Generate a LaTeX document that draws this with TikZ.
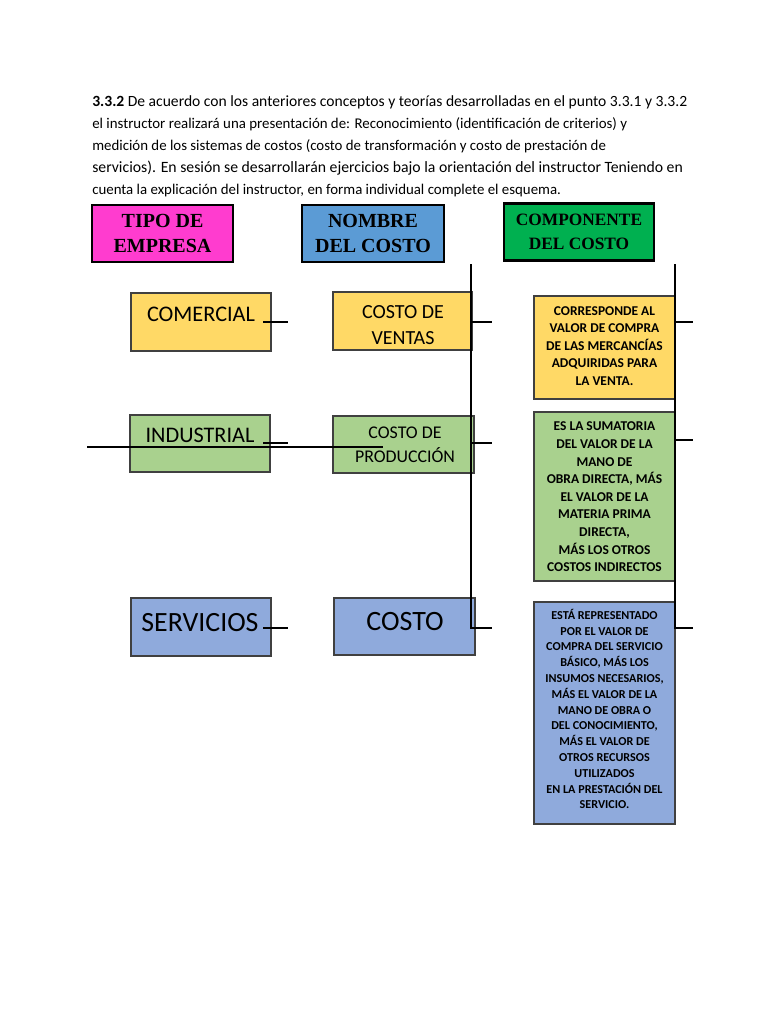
\documentclass[tikz,border=0pt]{standalone}
\usepackage{fontspec}
\setmainfont{Carlito}
\newfontfamily\hdrfont{Liberation Serif}
\definecolor{cMag}{HTML}{FF3CCF}
\definecolor{cHBlue}{HTML}{5B9BD5}
\definecolor{cHGreen}{HTML}{00B050}
\definecolor{cYel}{HTML}{FFD966}
\definecolor{cGrn}{HTML}{A9D18E}
\definecolor{cBlu}{HTML}{8FAADC}
\begin{document}
\begin{tikzpicture}[x=0.75pt,y=-0.75pt,
  sz/.style 2 args={minimum width=#1*0.75pt, minimum height=#2*0.75pt},
  hdr/.style={draw=black, line width=2.2pt, inner sep=0pt, align=center,
    font=\hdrfont\bfseries\fontsize{15}{18.8}\selectfont},
  box/.style={draw=black!75, line width=0.8pt, inner sep=0pt},
  rtxt/.style={inner sep=0pt, align=center, font=\bfseries\fontsize{10.1}{13.2}\selectfont},
  rtxts/.style={inner sep=0pt, align=center, font=\bfseries\fontsize{9.1}{11.85}\selectfont},
  big/.style={inner sep=0pt, font=\fontsize{16.7}{20}\selectfont},
  conn/.style={line width=1.5pt},
  thin/.style={line width=0.8pt}]
\useasboundingbox (0,0) rectangle (768,1024);

% intro text
\node[anchor=north west, inner sep=0pt, align=left, font=\fontsize{11.15}{16.4}\selectfont] (intro) at (92,95.5)
 {{\fontsize{11.7}{16.4}\selectfont\textbf{3.3.2} De acuerdo con los anteriores conceptos y teorías desarrolladas en el punto 3.3.1 y 3.3.2}\\
  el instructor realizará una presentación de: Reconocimiento (identificación de criterios) y\\
  medición de los sistemas de costos (costo de transformación y costo de prestación de\\
  {\fontsize{11.8}{16.4}\selectfont servicios). En sesión se desarrollarán ejercicios bajo la orientación del instructor Teniendo en}\\
  cuenta la explicación del instructor, en forma individual complete el esquema.};

% headers
\node[hdr, fill=cMag, sz={141}{57}] (h1) at (162.5,233.5) {TIPO DE\\EMPRESA};
\node[hdr, fill=cHBlue, sz={142}{57}] (h2) at (373,233.5) {NOMBRE\\DEL COSTO};
\node[hdr, fill=cHGreen, sz={150}{57}, font=\hdrfont\bfseries\fontsize{13}{18}\selectfont] (h3) at (579,232) {COMPONENTE\\DEL COSTO};

% column 1
\node[box, fill=cYel, sz={140}{58}] (com) at (201,322) {};
\node[big] (comt) at (201,314) {COMERCIAL};
\node[box, fill=cGrn, sz={140}{57}] (ind) at (200,443.5) {};
\node[big] (indt) at (200,435) {INDUSTRIAL};
\node[box, fill=cBlu, sz={140}{58}] (ser) at (201,627) {};
\node[big, font=\fontsize{20.9}{24}\selectfont] (sert) at (200,623) {SERVICIOS};

% column 2
\node[box, fill=cYel, sz={139}{58}] (cv) at (402.5,321) {};
\node[inner sep=0pt, align=center, font=\fontsize{15}{19.5}\selectfont] (cvt) at (403,325) {COSTO DE\\VENTAS};
\node[box, fill=cGrn, sz={141}{57}] (cp) at (403.5,444.5) {};
\node[inner sep=0pt, align=center, font=\fontsize{13.4}{18}\selectfont] (cpt) at (405,445) {COSTO DE\\PRODUCCIÓN};
\node[box, fill=cBlu, sz={141}{57}] (cs) at (404.5,626.5) {};
\node[inner sep=0pt, font=\fontsize{21}{24}\selectfont] (cst) at (405,622) {COSTO};

% column 3
\node[box, fill=cYel, sz={141}{103}] (r1) at (604.5,347.5) {};
\node[rtxt] (r1t) at (604.5,346) {CORRESPONDE AL\\VALOR DE COMPRA\\DE LAS MERCANCÍAS\\ADQUIRIDAS PARA\\LA VENTA.};
\node[box, fill=cGrn, sz={141}{169}] (r2) at (604.5,496.5) {};
\node[rtxt] (r2t) at (604.5,497) {ES LA SUMATORIA\\DEL VALOR DE LA\\MANO DE\\OBRA DIRECTA, MÁS\\EL VALOR DE LA\\MATERIA PRIMA\\DIRECTA,\\MÁS LOS OTROS\\COSTOS INDIRECTOS};
\node[box, fill=cBlu, sz={141}{222}] (r3) at (604.5,713) {};
\node[rtxts] (r3t) at (604.5,709) {ESTÁ REPRESENTADO\\POR EL VALOR DE\\COMPRA DEL SERVICIO\\BÁSICO, MÁS LOS\\INSUMOS NECESARIOS,\\MÁS EL VALOR DE LA\\MANO DE OBRA O\\DEL CONOCIMIENTO,\\MÁS EL VALOR DE\\OTROS RECURSOS\\UTILIZADOS\\EN LA PRESTACIÓN DEL\\SERVICIO.};

% coordinates for connector lines
\coordinate (a1) at (263,322); \coordinate (a2) at (288,322);
\coordinate (b1) at (263,443); \coordinate (b2) at (288,443);
\coordinate (c1) at (263,628); \coordinate (c2) at (288,628);
\coordinate (l1) at (87,447);  \coordinate (l2) at (383,447);
\coordinate (v1t) at (471,264); \coordinate (v1b) at (471,628); \coordinate (v1e) at (492,628);
\coordinate (v1p) at (471,322); \coordinate (v1q) at (492,322);
\coordinate (v1r) at (471,443); \coordinate (v1s) at (492,443);
\coordinate (v2t) at (675,264); \coordinate (v2b) at (675,628); \coordinate (v2e) at (693,628);
\coordinate (v2p) at (675,322); \coordinate (v2q) at (693,322);
\coordinate (v2r) at (675,440); \coordinate (v2s) at (693,440);

\draw[conn] (a1) -- (a2);
\draw[conn] (b1) -- (b2);
\draw[thin] (c1) -- (c2);
\draw[conn] (l1) -- (l2);
\draw[conn] (v1t) -- (v1b) -- (v1e);
\draw[conn] (v1p) -- (v1q);
\draw[conn] (v1r) -- (v1s);
\draw[conn] (v2t) -- (v2b) -- (v2e);
\draw[conn] (v2p) -- (v2q);
\draw[conn] (v2r) -- (v2s);
\end{tikzpicture}
\end{document}
